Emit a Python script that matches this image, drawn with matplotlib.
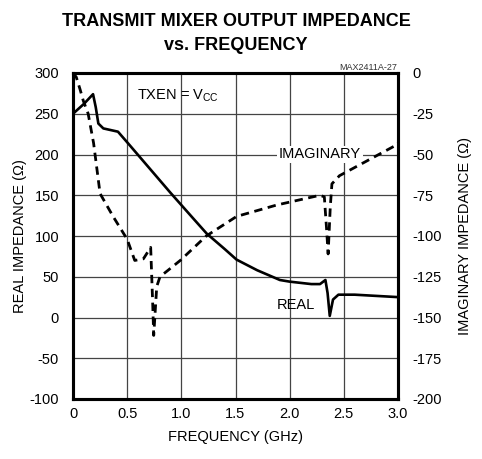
import matplotlib.pyplot as plt
import numpy as np

plt.rcParams['font.family'] = ['Liberation Sans Narrow', 'Liberation Sans', 'DejaVu Sans']
plt.rcParams['axes.unicode_minus'] = False

# real impedance (left axis, ohms)
real_freq = [0, 0.1, 0.185, 0.21, 0.234, 0.28, 0.415, 0.5, 0.7, 0.9, 1.1,
             1.234, 1.4, 1.51, 1.7, 1.91, 2.0, 2.2, 2.28, 2.33, 2.35, 2.37,
             2.4, 2.45, 2.6, 3.0]
real_val = [250, 262, 274, 258, 238, 232, 228, 215, 184, 153, 123,
            103, 84, 71, 58, 46, 44, 41, 41, 46, 30, 2,
            22, 28, 28, 25]

# imaginary impedance (right axis, ohms)
imag_freq = [0, 0.03, 0.065, 0.095, 0.14, 0.19, 0.25, 0.37, 0.5, 0.57, 0.65,
             0.717, 0.735, 0.745, 0.773, 0.803, 0.99, 1.23, 1.51, 1.88, 2.28,
             2.32, 2.34, 2.355, 2.375, 2.39, 2.46, 2.99, 3.0]
imag_val = [0, -2.5, -10, -17, -25, -43, -74, -88, -102, -115, -114,
            -107, -140, -161, -131, -125, -115, -100, -88, -81, -75,
            -76, -95, -111, -82, -68, -63, -44, -43]

x_ticks = [0, 0.5, 1.0, 1.5, 2.0, 2.5, 3.0]
x_labels = ['0', '0.5', '1.0', '1.5', '2.0', '2.5', '3.0']
left_ticks = [-100, -50, 0, 50, 100, 150, 200, 250, 300]
right_ticks = [-200, -175, -150, -125, -100, -75, -50, -25, 0]

fig = plt.figure(figsize=(4.82, 4.59), dpi=100)
ax = fig.add_axes([73/482, 1 - 399/459, 325/482, 326/459])
ax2 = ax.twinx()

ax.set_xlim(0, 3.0)
ax.set_ylim(-100, 300)
ax2.set_ylim(-200, 0)
ax.set_xticks(x_ticks)
ax.set_xticklabels(x_labels)
ax.set_yticks(left_ticks)
ax2.set_yticks(right_ticks)
ax2.set_yticklabels([str(t) for t in right_ticks])

ax.tick_params(length=0, labelsize=10.5, pad=6)
ax.tick_params(axis='y', pad=10)
ax2.tick_params(length=0, labelsize=10.5, pad=10)
for a in (ax, ax2):
    for s in a.spines.values():
        s.set_linewidth(2.2)
        s.set_color('black')

# grid lines at the tick positions
ax.vlines(x_ticks[1:-1], -100, 300, color='#444444', linewidth=0.9, zorder=1)
ax.hlines(left_ticks[1:-1], 0, 3.0, color='#444444', linewidth=0.9, zorder=1)

ax.plot(real_freq, real_val, color='black', linewidth=1.9, solid_joinstyle='round', zorder=3)
ax2.plot(imag_freq, imag_val, color='black', linewidth=2.0, dashes=(3, 2))

ax.text(0.59, 272, 'TXEN = V$_{\\mathregular{CC}}$', fontsize=10.5, va='center', zorder=4)
ax.text(2.28, 200, 'IMAGINARY', fontsize=10.5, ha='center', va='center', zorder=4,
        bbox=dict(facecolor='white', edgecolor='none', pad=1))
ax.text(2.06, 15, 'REAL', fontsize=10.5, ha='center', va='center', zorder=4)

ax.set_xlabel('FREQUENCY (GHz)', fontsize=10.5, labelpad=6)
ax.set_ylabel('REAL IMPEDANCE (Ω)', fontsize=10.5, labelpad=2)
ax2.set_ylabel('IMAGINARY IMPEDANCE (Ω)', fontsize=10.5, labelpad=12)

fig.text(236/482, 1 - 22/459, 'TRANSMIT MIXER OUTPUT IMPEDANCE', fontsize=13,
         fontweight='bold', ha='center', va='center')
fig.text(236/482, 1 - 45/459, 'vs. FREQUENCY', fontsize=13,
         fontweight='bold', ha='center', va='center')
fig.text(397/482, 1 - 67/459, 'MAX2411A-27', fontsize=6.5, ha='right',
         va='center', color='#333333')

fig.savefig('out.png', dpi=100)
